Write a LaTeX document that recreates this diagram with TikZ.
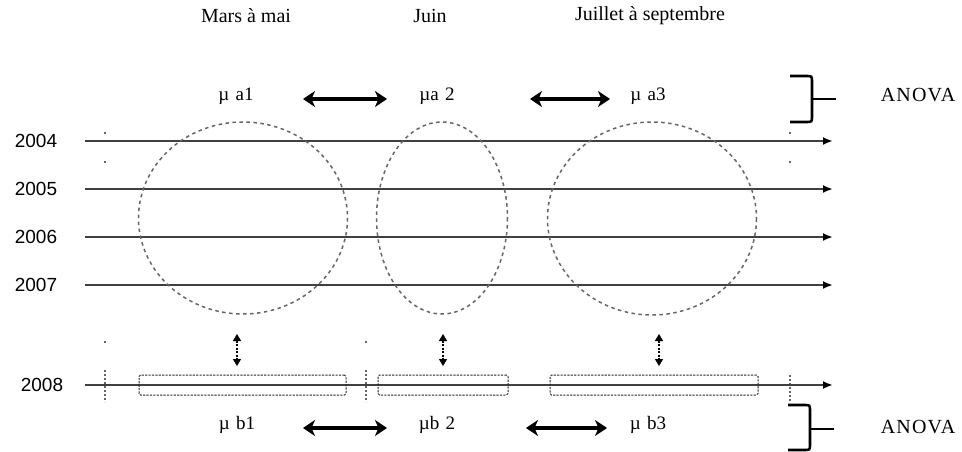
\documentclass[tikz,border=0pt]{standalone}
\usepackage{fontspec}
\setmainfont{Liberation Serif}
\newfontfamily\yearfont{Liberation Sans}
\usetikzlibrary{arrows.meta}
\begin{document}
\begin{tikzpicture}[x=1pt,y=-1pt,
  lbl/.style={font=\fontsize{20}{24}\selectfont, inner sep=0pt},
  mulbl/.style={font=\fontsize{19}{22}\selectfont, inner sep=0pt},
  anova/.style={font=\addfontfeature{LetterSpace=6}\fontsize{20}{24}\selectfont, inner sep=0pt},
  yr/.style={font=\yearfont\fontsize{19}{22}\selectfont, inner sep=0pt},
  axis/.style={draw=black!75, line width=2.4pt, -{Latex[length=10pt,width=8pt,color=black]}},
  oval/.style={draw=black!60, line width=1.5pt, dash pattern=on 3.5pt off 3.5pt, line join=round},
  periodbox/.style={draw=black!85, line width=1pt, dash pattern=on 2.2pt off 1.2pt, rounded corners=1.5pt, inner sep=0pt, minimum height=20pt},
  bigarrow/.style={line width=3.4pt, {Stealth[length=12pt,width=16pt,inset=3.5pt]}-{Stealth[length=12pt,width=16pt,inset=3.5pt]}},
  smallarrow/.style={line width=1.2pt, dash pattern=on 2pt off 1.5pt, {Triangle[length=7pt,width=8pt]}-{Triangle[length=7pt,width=8pt]}},
  brace/.style={line width=2.6pt, draw=black},
  sep/.style={draw=black!60, line width=1.2pt, dash pattern=on 2pt off 2pt}
]
\useasboundingbox (0,0) rectangle (962,452);

% period titles
\node[lbl] (t1) at (246,16) {Mars à mai};
\node[lbl] (t2) at (430,16) {Juin};
\node[lbl] (t3) at (650,16) {Juillet à septembre};

% top means
\node[mulbl] (ma1) at (236,96) {µ\,\,a1};
\node[mulbl] (ma2) at (437,96) {µa\,\,2};
\node[mulbl] (ma3) at (648,96) {µ\,\,a3};
\coordinate (ta1) at (303,99); \coordinate (ta2) at (387,99);
\coordinate (ta3) at (530,99); \coordinate (ta4) at (610,99);
\draw[bigarrow] (ta1) -- (ta2);
\draw[bigarrow] (ta3) -- (ta4);

% bottom means
\node[mulbl] (mb1) at (237,425) {µ\,\,b1};
\node[mulbl] (mb2) at (437,425) {µb\,\,2};
\node[mulbl] (mb3) at (648,425) {µ\,\,b3};
\coordinate (tb1) at (303,428); \coordinate (tb2) at (387,428);
\coordinate (tb3) at (526,428); \coordinate (tb4) at (607,428);
\draw[bigarrow] (tb1) -- (tb2);
\draw[bigarrow] (tb3) -- (tb4);

% years and timelines
\foreach \yy/\lab/\xl in {141/2004/36,189/2005/36,237/2006/36,285/2007/36,385/2008/42}{
  \node[yr] (y\lab) at (\xl,\yy) {\lab};
  \coordinate (s\lab) at (85,\yy);
  \coordinate (e\lab) at (833,\yy);
}

% separators (faint dotted marks)
\foreach \xx in {105,790}{
  \fill[black!60] (\xx-0.8,132) rectangle (\xx+0.8,134);
  \fill[black!60] (\xx-0.8,161) rectangle (\xx+0.8,163);
}
\coordinate (d1a) at (105,370); \coordinate (d1b) at (105,402);
\coordinate (d2a) at (366,370); \coordinate (d2b) at (366,402);
\coordinate (d3a) at (790,375); \coordinate (d3b) at (790,402);
\draw[sep] (d1a) -- (d1b);
\draw[sep] (d2a) -- (d2b);
\draw[sep] (d3a) -- (d3b);
\fill[black!60] (104.2,341) rectangle (105.8,343);
\fill[black!60] (365.2,341) rectangle (366.8,343);

\foreach \lab in {2004,2005,2006,2007,2008}{
  \draw[axis] (s\lab) -- (e\lab);
}

% ellipses (polyline approximation)
\coordinate (o1) at (243,218);
\coordinate (o2) at (442,218);
\coordinate (o3) at (652,218);
\draw[oval] plot[domain=0:360, samples=181, variable=\t] ({243+104.5*cos(\t)}, {218+96*sin(\t)}) -- cycle;
\draw[oval] plot[domain=0:360, samples=181, variable=\t] ({442+65.5*cos(\t)}, {218+96*sin(\t)}) -- cycle;
\draw[oval] plot[domain=0:360, samples=181, variable=\t] ({652+104.5*cos(\t)}, {218.5+96.5*sin(\t)}) -- cycle;

% 2008 boxes
\node[periodbox, minimum width=207pt] (b1) at (242.5,385) {};
\node[periodbox, minimum width=130pt] (b2) at (443,385) {};
\node[periodbox, minimum width=208pt] (b3) at (654,385) {};

% small vertical arrows
\coordinate (v1a) at (237,334); \coordinate (v1b) at (237,366);
\coordinate (v2a) at (443,334); \coordinate (v2b) at (443,366);
\coordinate (v3a) at (659,334); \coordinate (v3b) at (659,366);
\draw[smallarrow] (v1a) -- (v1b);
\draw[smallarrow] (v2a) -- (v2b);
\draw[smallarrow] (v3a) -- (v3b);

% braces and ANOVA
\node[anova] (an1) at (918,95) {ANOVA};
\node[anova] (an2) at (918,427) {ANOVA};
\coordinate (br1) at (812,99); \coordinate (br1t) at (836,99);
\draw[brace] (790,76) -- (806,76) .. controls (812,76) .. (812,82) -- (812,116) .. controls (812,122) .. (806,122) -- (790,122);
\draw[brace] (br1) -- (br1t);
\coordinate (br2) at (810,429); \coordinate (br2t) at (834,429);
\draw[brace] (788,405) -- (804,405) .. controls (810,405) .. (810,411) -- (810,444) .. controls (810,450) .. (804,450) -- (788,450);
\draw[brace] (br2) -- (br2t);
\end{tikzpicture}
\end{document}
